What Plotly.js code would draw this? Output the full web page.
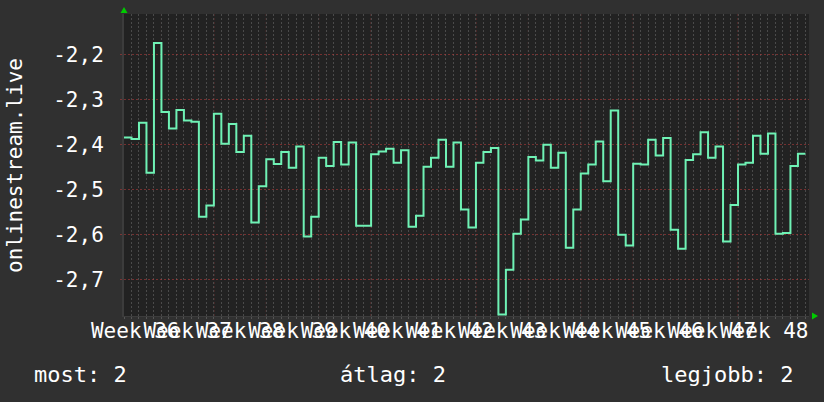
<!DOCTYPE html>
<html>
<head>
<meta charset="utf-8">
<script src="https://cdn.plot.ly/plotly-3.0.1.min.js"></script>
<style>
  html, body { margin: 0; padding: 0; background: #303030; }
  #chart { width: 824px; height: 402px; }
</style>
</head>
<body>
<div id="chart"></div>
<script>
// Daily values (day index 0 .. 90)
const values = [
  -2.385, -2.388, -2.352, -2.463, -2.175, -2.328, -2.365, -2.324, -2.347, -2.350,
  -2.561, -2.536, -2.332, -2.399, -2.355, -2.417, -2.381, -2.574, -2.493, -2.433,
  -2.444, -2.417, -2.452, -2.405, -2.605, -2.561, -2.430, -2.448, -2.395, -2.445,
  -2.396, -2.581, -2.581, -2.422, -2.416, -2.410, -2.441, -2.413, -2.583, -2.559,
  -2.450, -2.430, -2.390, -2.450, -2.396, -2.545, -2.585, -2.441, -2.417, -2.408,
  -2.778, -2.679, -2.599, -2.567, -2.428, -2.436, -2.401, -2.452, -2.419, -2.630,
  -2.545, -2.465, -2.445, -2.394, -2.482, -2.325, -2.601, -2.625, -2.443, -2.445,
  -2.390, -2.425, -2.386, -2.590, -2.632, -2.435, -2.422, -2.373, -2.430, -2.405,
  -2.616, -2.535, -2.445, -2.441, -2.381, -2.421, -2.376, -2.599, -2.597, -2.448,
  -2.421
];
const weekNumbers = [36, 37, 38, 39, 40, 41, 42, 43, 44, 45, 46, 47, 48];
const week37StartDay = 5;          // day index where week 37 begins
const yTicks = [-2.2, -2.3, -2.4, -2.5, -2.6, -2.7];
const yTickText = ['-2,2', '-2,3', '-2,4', '-2,5', '-2,6', '-2,7'];
const axisTitle = 'onlinestream.live';
const legendTexts = ['most: 2', 'átlag: 2', 'legjobb: 2'];

// step line: one point per day start, plus closing point at the end of last day
const xs = values.map((v, i) => i);
xs.push(values.length);
const ys = values.slice();
ys.push(values[values.length - 1]);

const weekStart = w => week37StartDay + 7 * (w - 37);
const tickVals = weekNumbers.map(w => weekStart(w) + 3.5);
const tickText = weekNumbers.map(w => 'Week ' + w);

const M = { l: 124, r: 15, t: 14, b: 86 };
const W = 824, H = 402;
const PW = W - M.l - M.r, PH = H - M.t - M.b;
const px = x => (x - M.l) / PW;
const py = y => (H - M.b - y) / PH;

const FONT = 'DejaVu Sans Mono';
const majorGrid = 'rgba(185,60,60,0.55)';

const shapes = [];
// weekly major grid lines (week starts)
weekNumbers.concat([weekNumbers[weekNumbers.length - 1] + 1]).forEach(w => {
  const d = weekStart(w);
  if (d > 0 && d < values.length + 0.4) {
    shapes.push({ type: 'line', xref: 'x', yref: 'paper', x0: d, x1: d, y0: 0, y1: 1,
      line: { color: majorGrid, width: 1, dash: '2px,2px' }, layer: 'below' });
  }
});
// green axis arrows
shapes.push({ type: 'path', xref: 'paper', yref: 'paper',
  path: `M ${px(120.5)} ${py(13)} L ${px(127.5)} ${py(13)} L ${px(124)} ${py(7)} Z`,
  fillcolor: '#00cc00', line: { width: 0 } });
shapes.push({ type: 'path', xref: 'paper', yref: 'paper',
  path: `M ${px(812)} ${py(312.5)} L ${px(812)} ${py(319.5)} L ${px(818)} ${py(316)} Z`,
  fillcolor: '#00cc00', line: { width: 0 } });

const annotations = [
  { text: axisTitle, xref: 'paper', yref: 'paper', x: px(15), y: py(165),
    xanchor: 'center', yanchor: 'middle', textangle: -90, showarrow: false,
    font: { family: FONT, size: 21, color: '#ffffff' } },
  { text: legendTexts[0], xref: 'paper', yref: 'paper', x: px(32), y: py(374),
    xanchor: 'left', yanchor: 'middle', showarrow: false,
    font: { family: FONT, size: 22, color: '#ffffff' } },
  { text: legendTexts[1], xref: 'paper', yref: 'paper', x: px(393), y: py(374),
    xanchor: 'center', yanchor: 'middle', showarrow: false,
    font: { family: FONT, size: 22, color: '#ffffff' } },
  { text: legendTexts[2], xref: 'paper', yref: 'paper', x: px(795), y: py(374),
    xanchor: 'right', yanchor: 'middle', showarrow: false,
    font: { family: FONT, size: 22, color: '#ffffff' } }
];

const trace = {
  x: xs, y: ys, type: 'scatter', mode: 'lines',
  line: { shape: 'hv', color: '#6ff2b5', width: 2 },
  hoverinfo: 'skip'
};

const layout = {
  width: W, height: H,
  margin: M,
  paper_bgcolor: '#303030',
  plot_bgcolor: '#222222',
  showlegend: false,
  font: { family: FONT, size: 21, color: '#ffffff' },
  xaxis: {
    range: [0, PW / 7.488],
    tickmode: 'array', tickvals: tickVals, ticktext: tickText,
    tickangle: 0, showgrid: false, zeroline: false,
    ticks: '', ticklabelstandoff: -4,
    tickfont: { family: FONT, size: 21, color: '#ffffff' },
    showline: true, linecolor: '#3c3c3c', linewidth: 1,
    minor: { tickmode: 'linear', tick0: 0, dtick: 1, showgrid: true,
             gridcolor: '#4a4a4a', griddash: '2px,2px', gridwidth: 1,
             ticks: 'outside', ticklen: 2, tickcolor: '#555555' },
    fixedrange: true
  },
  yaxis: {
    range: [-2.7816, -2.1104],
    tickmode: 'array', tickvals: yTicks, ticktext: yTickText,
    showgrid: true, gridcolor: majorGrid, griddash: '2px,2px', gridwidth: 1,
    zeroline: false, ticks: 'outside', ticklen: 2, tickcolor: majorGrid,
    ticklabelstandoff: 12,
    tickfont: { family: FONT, size: 21, color: '#ffffff' },
    showline: true, linecolor: '#3c3c3c', linewidth: 2,
    fixedrange: true
  },
  shapes: shapes,
  annotations: annotations
};

Plotly.newPlot('chart', [trace], layout, { staticPlot: true, displayModeBar: false });
</script>
</body>
</html>
